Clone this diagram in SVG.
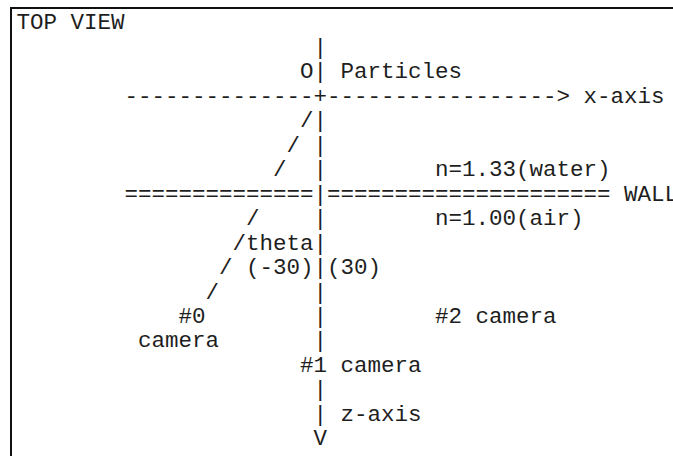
<svg xmlns="http://www.w3.org/2000/svg" width="673" height="456" viewBox="0 0 673 456">
  <style>
    text { font-family: "Liberation Mono", "Courier New", monospace; font-size: 22.5px; fill: #1e1e1e; }
    .frame { fill: none; stroke: #111; stroke-width: 2; }
  </style>
  <rect width="673" height="456" fill="#ffffff"/>
  <!-- panel border (right and bottom edges fall outside the view) -->
  <rect class="frame" x="11" y="8" width="700" height="480"/>

  <!-- monospace grid: column c at x = 16.5 + 13.5*c, row r baseline = 29.3 + 24.47*r -->
  <g id="title">
    <text x="16.5" y="29.3">TOP VIEW</text>
  </g>

  <g id="connectors">
    <!-- z-axis drawn with bar characters, column 22 -->
    <g id="z-axis-line">
      <text x="313.5" y="53.8">|</text>
      <text x="313.5" y="78.2">|</text>
      <text x="313.5" y="127.2">|</text>
      <text x="313.5" y="151.7">|</text>
      <text x="313.5" y="176.1">|</text>
      <text x="313.5" y="200.6">|</text>
      <text x="313.5" y="225.1">|</text>
      <text x="313.5" y="249.5">|</text>
      <text x="313.5" y="274.0">|</text>
      <text x="313.5" y="298.5">|</text>
      <text x="313.5" y="322.9">|</text>
      <text x="313.5" y="347.4">|</text>
      <text x="313.5" y="396.4">|</text>
      <text x="313.5" y="420.8">|</text>
      <text x="313.5" y="445.3">V</text>
    </g>
    <!-- x-axis drawn with dashes, arrow at column 40 -->
    <g id="x-axis-line">
      <text x="124.5" y="102.7">--------------+-----------------&gt;</text>
    </g>
    <!-- viewing ray of camera #0 -->
    <g id="ray">
      <text x="300" y="127.2">/</text>
      <text x="286.5" y="151.7">/</text>
      <text x="273" y="176.1">/</text>
      <text x="246" y="225.1">/</text>
      <text x="232.5" y="249.5">/</text>
      <text x="219" y="274.0">/</text>
      <text x="205.5" y="298.5">/</text>
    </g>
  </g>

  <g id="origin">
    <text x="300" y="78.2">O</text>
  </g>
  <g id="particles">
    <text x="340.5" y="78.2">Particles</text>
  </g>
  <g id="x-axis-label">
    <text x="583.5" y="102.7">x-axis</text>
  </g>

  <g id="wall">
    <text x="124.5" y="200.6">==============</text>
    <text x="327" y="200.6">=====================</text>
    <text x="624" y="200.6">WALL</text>
  </g>

  <g id="water">
    <text x="435" y="176.1">n=1.33(water)</text>
  </g>
  <g id="air">
    <text x="435" y="225.1">n=1.00(air)</text>
  </g>

  <g id="angles">
    <text x="246" y="249.5">theta</text>
    <text x="246" y="274.0">(-30)</text>
    <text x="327" y="274.0">(30)</text>
  </g>

  <g id="camera-0">
    <text x="178.5" y="322.9">#0</text>
    <text x="138" y="347.4">camera</text>
  </g>
  <g id="camera-1">
    <text x="300" y="371.9">#1 camera</text>
  </g>
  <g id="camera-2">
    <text x="435" y="322.9">#2 camera</text>
  </g>

  <g id="z-axis-label">
    <text x="340.5" y="420.8">z-axis</text>
  </g>
</svg>
